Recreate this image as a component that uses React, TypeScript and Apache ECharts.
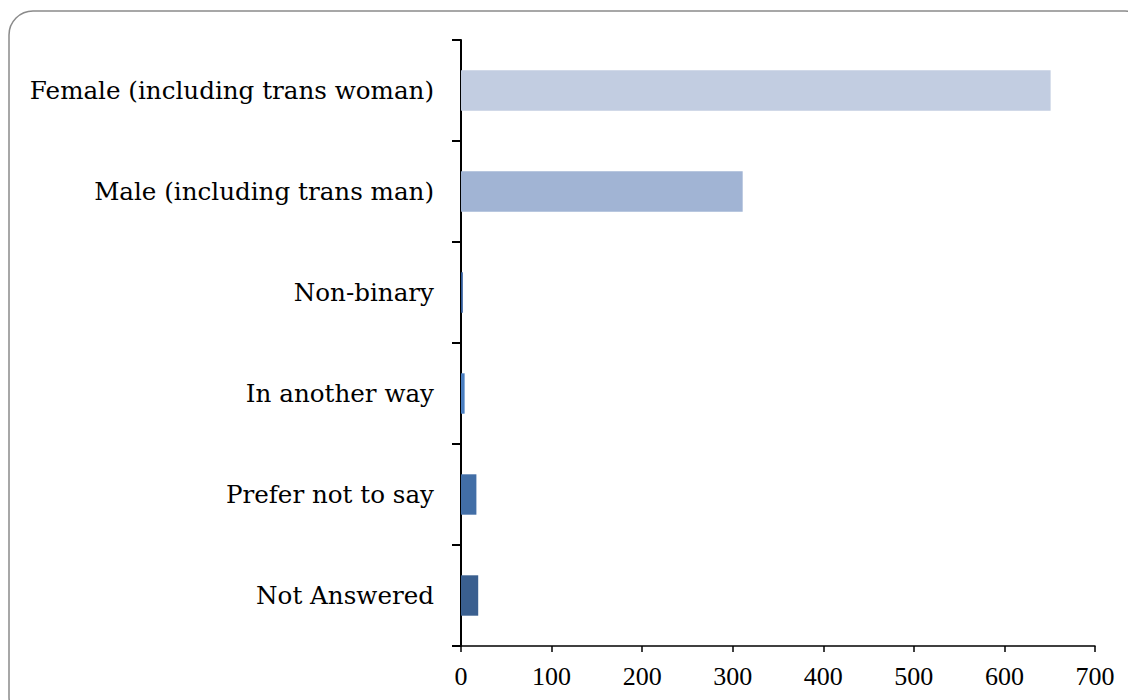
import React, { useEffect, useRef } from "react";
import * as echarts from "echarts";

const categories = [
  "Female (including trans woman)",
  "Male (including trans man)",
  "Non-binary",
  "In another way",
  "Prefer not to say",
  "Not Answered",
];
const values = [651, 311, 2, 4, 17, 19];
const colors = ["#C2CDE1", "#A1B4D4", "#2E5A9A", "#4A7EC0", "#426EA6", "#3A5F8F"];
const xTicks = { min: 0, max: 700, interval: 100 };

export default function App() {
  const ref = useRef<HTMLDivElement>(null);
  useEffect(() => {
    const chart = echarts.init(ref.current!, null, { renderer: "svg" });
    chart.setOption({
      animation: false,
      backgroundColor: "#fff",
      graphic: [
        {
          type: "rect",
          shape: { x: 9, y: 11, width: 1140, height: 710, r: 24 },
          style: { fill: "none", stroke: "#8a8a8a", lineWidth: 1.5 },
          z: -1,
        },
      ],
      grid: { left: 461, right: 33, top: 40, bottom: 54, containLabel: false },
      xAxis: {
        type: "value",
        min: xTicks.min,
        max: xTicks.max,
        interval: xTicks.interval,
        axisLine: { show: true, lineStyle: { color: "#000", width: 1.5 } },
        axisTick: { show: true, length: 6, lineStyle: { color: "#000", width: 1.5 } },
        splitLine: { show: false },
        axisLabel: {
          color: "#000",
          fontFamily: "'Liberation Serif', serif",
          fontSize: 26,
          margin: 17,
        },
      },
      yAxis: {
        type: "category",
        data: categories,
        inverse: true,
        axisLine: { show: true, lineStyle: { color: "#000", width: 2 } },
        axisTick: { show: true, length: 9, lineStyle: { color: "#000", width: 2 } },
        axisLabel: { color: "#000", fontFamily: "'DejaVu Serif', serif", fontSize: 24.6, margin: 27 },
      },
      series: [
        {
          type: "bar",
          data: values.map((v, i) => ({ value: v, itemStyle: { color: colors[i] } })),
          barCategoryGap: "60%",
        },
      ],
    });
    return () => chart.dispose();
  }, []);
  return <div ref={ref} style={{ width: 1128, height: 700, position: "absolute", left: 0, top: 0 }} />;
}
